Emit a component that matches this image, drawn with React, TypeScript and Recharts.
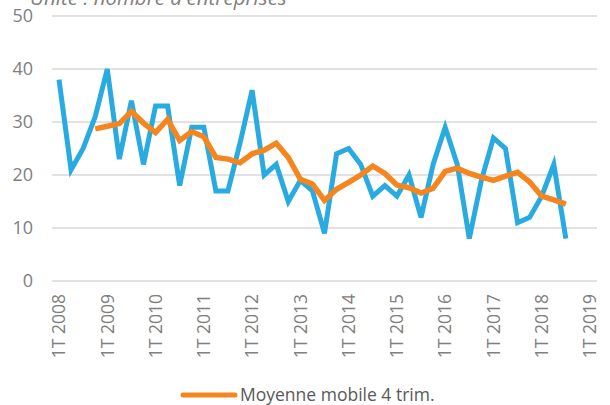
import { CartesianGrid, Line, LineChart, XAxis, YAxis } from 'recharts';

const years = [2008, 2009, 2010, 2011, 2012, 2013, 2014, 2015, 2016, 2017, 2018, 2019];
const quarterLabels = ['1T', '2T', '3T', '4T'];

// nombre d'entreprises, 1T 2008 -> 3T 2018
const entreprises = [
  38, 21, 25, 31, 40, 23, 34, 22, 33, 33, 18, 29, 29, 17, 17, 26, 36, 20, 22, 15, 19, 17,
  9, 24, 25, 22, 16, 18, 16, 20, 12, 22, 29, 22, 8, 19, 27, 25, 11, 12, 16, 22, 8,
];

// moyenne mobile 4 trimestres (starts at 4T 2008)
const moyenneMobile = [
  28.7, 29.2, 29.7, 32, 29.8, 28, 30.5, 26.5, 28.2, 27.2, 23.3, 23, 22.3, 24, 24.7, 26,
  23.3, 19.2, 18.3, 15.2, 17.3, 18.6, 20, 21.7, 20.3, 18.1, 17.6, 16.6, 17.5, 20.7, 21.3,
  20.3, 19.6, 19, 19.8, 20.5, 18.7, 16, 15.3, 14.5,
];
const maStart = 3;

const yTicks = [0, 10, 20, 30, 40, 50];

const categories = years.flatMap((y) => quarterLabels.map((q) => `${q} ${y}`)).slice(0, 45);

const rows = categories.map((label, i) => ({
  label,
  entreprises: i < entreprises.length ? entreprises[i] : null,
  moyenne: i >= maStart && i - maStart < moyenneMobile.length ? moyenneMobile[i - maStart] : null,
}));

const GREY = '#808080';
const BLUE = '#29abe2';
const ORANGE = '#f5861f';

function QuarterTick({ x, y, payload }: any) {
  return (
    <g transform={`translate(${x},${y})`}>
      <text
        transform="rotate(-90)"
        textAnchor="end"
        dy="0.36em"
        fill={GREY}
        fontSize={17.5}
        fontFamily="Open Sans"
      >
        {payload.value}
      </text>
    </g>
  );
}

export default function App() {
  return (
    <div style={{ position: 'absolute', left: 0, top: 0, width: 610, height: 405, background: '#fff' }}>
      <LineChart
        width={610}
        height={405}
        data={rows}
        margin={{ top: 16, right: 13, bottom: 0, left: 0 }}
      >
        <CartesianGrid vertical={false} stroke="#d9d9d9" strokeWidth={1.5} />
        <XAxis
          dataKey="label"
          interval={3}
          height={124}
          padding={{ left: 7, right: 7 }}
          axisLine={false}
          tickLine={false}
          tickSize={0}
          tickMargin={13}
          tick={<QuarterTick />}
        />
        <YAxis
          domain={[0, 50]}
          ticks={yTicks}
          width={52}
          axisLine={false}
          tickLine={false}
          tickSize={0}
          tickMargin={19}
          tick={{ fill: GREY, fontSize: 18, fontFamily: 'Open Sans' }}
        />
        <Line
          dataKey="entreprises"
          stroke={BLUE}
          strokeWidth={5}
          dot={false}
          isAnimationActive={false}
        />
        <Line
          dataKey="moyenne"
          stroke={ORANGE}
          strokeWidth={5.5}
          dot={false}
          isAnimationActive={false}
        />
      </LineChart>
      <svg
        width={610}
        height={405}
        style={{ position: 'absolute', left: 0, top: 0, pointerEvents: 'none' }}
      >
        <text x={30} y={5} fill={GREY} fontSize={20.5} fontStyle="italic" fontFamily="Open Sans">
          Unité : nombre d'entreprises
        </text>
        <line x1={183} x2={235} y1={395} y2={395} stroke={ORANGE} strokeWidth={5} strokeLinecap="round" />
        <text x={240} y={401} fill="#595959" fontSize={17.5} fontFamily="Open Sans">
          Moyenne mobile 4 trim.
        </text>
      </svg>
    </div>
  );
}
